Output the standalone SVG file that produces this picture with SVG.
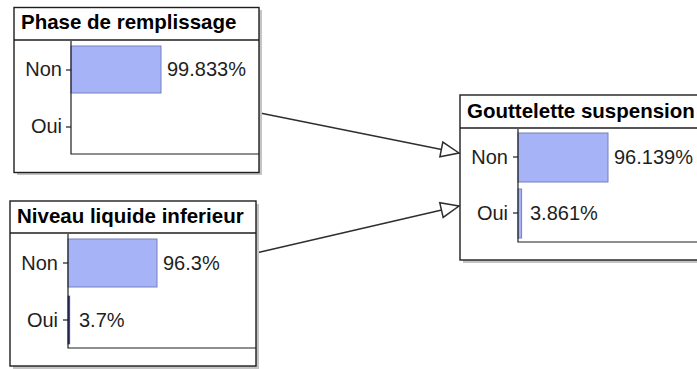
<svg xmlns="http://www.w3.org/2000/svg" width="697" height="369" viewBox="0 0 697 369">
  <style>
    .shadow { fill: #c4c4c4; }
    .box { fill: #ffffff; stroke: #1e1e1e; stroke-width: 1.4; }
    .rule { stroke: #1e1e1e; stroke-width: 1.4; fill: none; }
    .axis { stroke: #1e1e1e; stroke-width: 1.2; fill: none; }
    .bar { fill: #a6b3f7; stroke: #7280c0; stroke-width: 1; }
    .thin { fill: #2a3590; stroke: #2a3590; stroke-width: 0.6; }
    .title { font-family: "Liberation Sans", Arial, sans-serif; font-weight: bold; font-size: 20.5px; fill: #000; }
    .lbl { font-family: "Liberation Sans", Arial, sans-serif; font-size: 20px; fill: #1e1e1e; }
    .state { text-anchor: end; }
    .edge { stroke: #2e2e2e; stroke-width: 1.5; fill: none; marker-end: url(#tri); }
  </style>
  <defs>
    <marker id="tri" markerUnits="userSpaceOnUse" markerWidth="24" markerHeight="20" viewBox="-20 -10 22 20" refX="0" refY="0" orient="auto">
      <path d="M0,0 L-18,-7.5 L-18,7.5 Z" fill="#ffffff" stroke="#2e2e2e" stroke-width="1.5" stroke-linejoin="miter"/>
    </marker>
  </defs>

  <rect width="697" height="369" fill="#ffffff"/>

  <!-- links between variables -->
  <g id="connectors">
    <line class="edge" x1="260" y1="113" x2="459" y2="153"/>
    <line class="edge" x1="256" y1="253" x2="459" y2="206"/>
  </g>

  <!-- Phase de remplissage -->
  <g id="node-phase">
    <rect class="shadow" x="17" y="10" width="245" height="165"/>
    <rect class="box" x="14" y="7.5" width="245" height="165"/>
    <line class="rule" x1="14" y1="40" x2="259" y2="40"/>
    <text class="title" x="21" y="29">Phase de remplissage</text>
    <rect class="bar" x="71" y="46" width="90" height="47"/>
    <polyline class="axis" points="71,41 71,154 259,154"/>
    <line class="axis" x1="66" y1="70" x2="71" y2="70"/>
    <line class="axis" x1="66" y1="127" x2="71" y2="127"/>
    <text class="lbl state" x="62" y="76">Non</text>
    <text class="lbl state" x="62" y="133">Oui</text>
    <text class="lbl" x="167" y="76">99.833%</text>
  </g>

  <!-- Niveau liquide inferieur -->
  <g id="node-niveau">
    <rect class="shadow" x="13" y="204" width="246" height="165"/>
    <rect class="box" x="10" y="201" width="246" height="165"/>
    <line class="rule" x1="10" y1="233" x2="256" y2="233"/>
    <text class="title" x="17" y="223">Niveau liquide inferieur</text>
    <rect class="bar" x="68" y="239" width="89" height="48"/>
    <rect class="thin" x="68" y="296" width="1.8" height="48"/>
    <polyline class="axis" points="68,234 68,348 256,348"/>
    <line class="axis" x1="63" y1="263" x2="68" y2="263"/>
    <line class="axis" x1="63" y1="320" x2="68" y2="320"/>
    <text class="lbl state" x="58" y="270">Non</text>
    <text class="lbl state" x="58" y="327">Oui</text>
    <text class="lbl" x="163" y="270">96.3%</text>
    <text class="lbl" x="79" y="327">3.7%</text>
  </g>

  <!-- Gouttelette suspension -->
  <g id="node-gouttelette">
    <rect class="shadow" x="463" y="98" width="250" height="165"/>
    <rect class="box" x="460" y="95" width="250" height="165"/>
    <line class="rule" x1="460" y1="128" x2="710" y2="128"/>
    <text class="title" x="467" y="118">Gouttelette suspension</text>
    <rect class="bar" x="518" y="133" width="90" height="49"/>
    <rect class="bar" x="518" y="189" width="3.6" height="49"/>
    <polyline class="axis" points="518,129 518,242 710,242"/>
    <line class="axis" x1="513" y1="157" x2="518" y2="157"/>
    <line class="axis" x1="513" y1="213" x2="518" y2="213"/>
    <text class="lbl state" x="508" y="164">Non</text>
    <text class="lbl state" x="508" y="220">Oui</text>
    <text class="lbl" x="614" y="164">96.139%</text>
    <text class="lbl" x="530" y="220">3.861%</text>
  </g>
</svg>
